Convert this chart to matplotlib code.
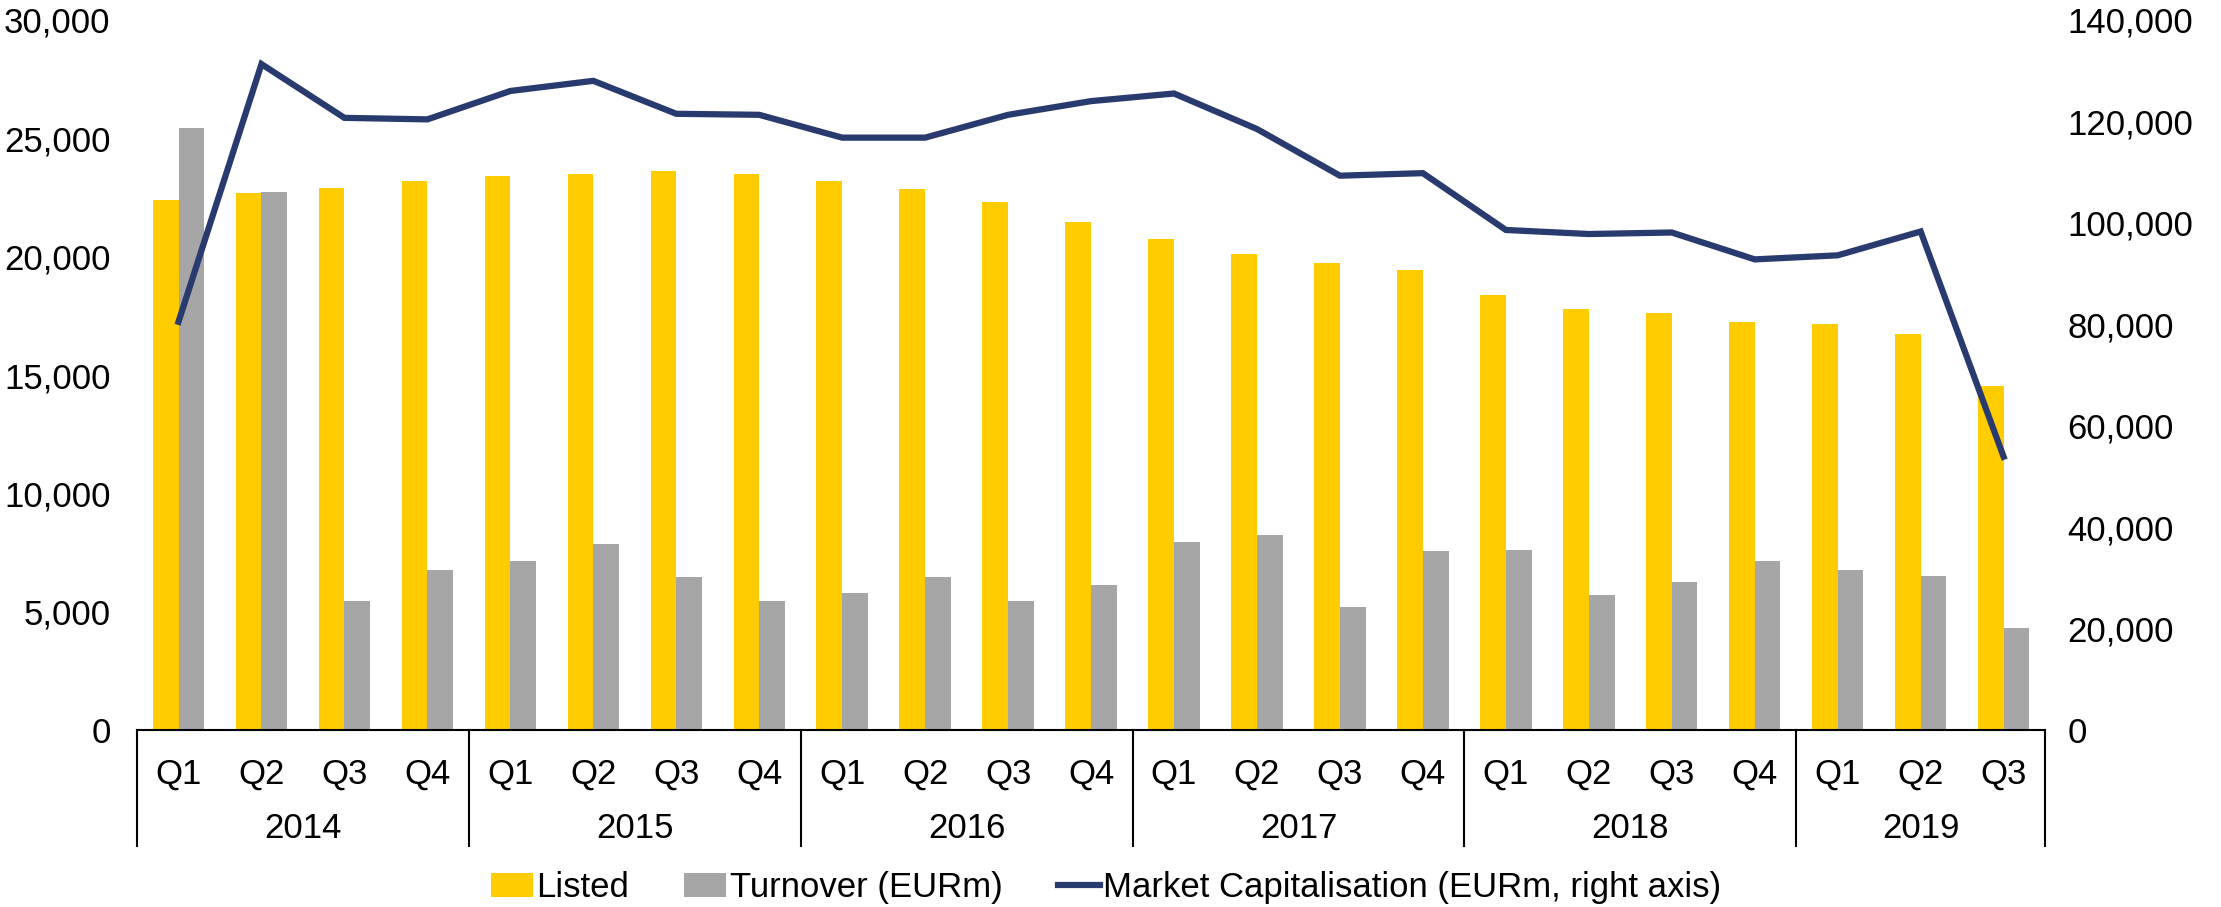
import numpy as np
import matplotlib
matplotlib.use('Agg')
import matplotlib.pyplot as plt
from matplotlib.ticker import FuncFormatter
import matplotlib.transforms as mtrans

plt.rcParams['font.family'] = ['Liberation Sans', 'DejaVu Sans']

years = ['2014', '2015', '2016', '2017', '2018', '2019']
quarters_per_year = [4, 4, 4, 4, 4, 3]
quarters = ['Q1', 'Q2', 'Q3', 'Q4'] * 5 + ['Q1', 'Q2', 'Q3']

listed = [22400, 22700, 22900, 23200,
          23400, 23500, 23600, 23500,
          23200, 22850, 22300, 21450,
          20750, 20100, 19750, 19450,
          18400, 17800, 17600, 17250,
          17150, 16750, 14550]
turnover = [25450, 22750, 5450, 6750,
            7150, 7850, 6450, 5450,
            5800, 6450, 5450, 6150,
            7950, 8250, 5200, 7550,
            7600, 5700, 6250, 7150,
            6750, 6500, 4300]
market_cap = [80500, 131300, 120700, 120400,
              126000, 128000, 121500, 121300,
              116800, 116800, 121300, 124000,
              125500, 118500, 109300, 109800,
              98600, 97800, 98100, 92800,
              93600, 98300, 53900]

yellow = '#FFCC00'
grey = '#A6A6A6'
navy = '#283A6E'
fs = 25

fig = plt.figure(figsize=(22.21, 9.07), dpi=100)
ax = fig.add_axes([0.0617, 0.195, 0.8591, 0.783])
ax2 = ax.twinx()

x = np.arange(len(quarters))
w = 0.31
b1 = ax.bar(x - 0.155, listed, w, color=yellow, label='Listed', zorder=2)
b2 = ax.bar(x + 0.155, turnover, w, color=grey, label='Turnover (EURm)', zorder=2)
l1, = ax2.plot(x, market_cap, color=navy, lw=4.5, solid_joinstyle='miter',
               label='Market Capitalisation (EURm, right axis)')

ax.set_xlim(-0.5, len(quarters) - 0.5)
ax.set_ylim(0, 30000)
ax2.set_ylim(0, 140000)
ax.set_yticks(np.arange(0, 30001, 5000))
ax2.set_yticks(np.arange(0, 140001, 20000))
fmt = FuncFormatter(lambda v, p: f'{int(v):,}')
ax.yaxis.set_major_formatter(fmt)
ax2.yaxis.set_major_formatter(fmt)
ax.tick_params(axis='y', length=0, labelsize=fs, pad=19)
ax2.tick_params(axis='y', length=0, labelsize=fs, pad=16)

ax.set_xticks(x)
ax.set_xticklabels(quarters)
ax.tick_params(axis='x', length=0, labelsize=fs, pad=20)

for a in (ax, ax2):
    for s in ['top', 'left', 'right']:
        a.spines[s].set_visible(False)
ax2.spines['bottom'].set_visible(False)
ax.spines['bottom'].set_linewidth(1.5)
ax.spines['bottom'].set_zorder(3)

# year group labels and separators under the axis
trans = mtrans.blended_transform_factory(ax.transData, ax.transAxes)
edges = np.concatenate([[0], np.cumsum(quarters_per_year)]) - 0.5
for e in edges:
    ax.plot([e, e], [0, -0.163], transform=trans, color='black', lw=1.5,
            clip_on=False)
for i, yr in enumerate(years):
    mid = (edges[i] + edges[i + 1]) / 2
    ax.text(mid, -0.139, yr, transform=trans, ha='center', va='center',
            fontsize=fs)

fig.legend([b1, b2, l1],
           ['Listed', 'Turnover (EURm)', 'Market Capitalisation (EURm, right axis)'],
           loc='center', bbox_to_anchor=(0.498, 0.021), ncol=3, frameon=False,
           fontsize=fs, handlelength=1.2, handletextpad=0.1, columnspacing=1.6)

fig.savefig('out.png', dpi=100)
